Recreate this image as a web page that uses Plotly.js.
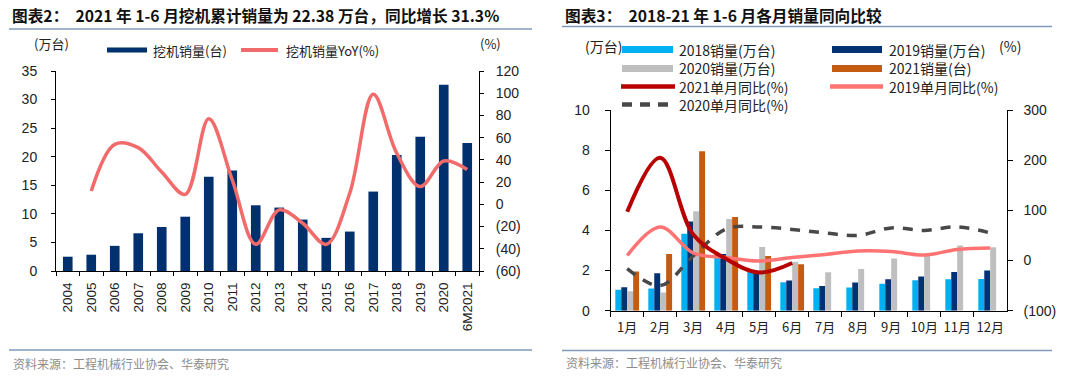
<!DOCTYPE html>
<html>
<head>
<meta charset="utf-8">
<script src="https://cdn.plot.ly/plotly-3.0.1.min.js"></script>
<style>html,body{margin:0;padding:0;background:#fff;}#chart{width:1080px;height:376px;}</style>
</head>
<body>
<div id="chart"></div>
<script>
// ---------- Data: chart 2 (annual) ----------
const years = ["2004","2005","2006","2007","2008","2009","2010","2011","2012","2013","2014","2015","2016","2017","2018","2019","2020","6M2021"];
const annualSales = [2.5, 2.85, 4.4, 6.6, 7.7, 9.5, 16.5, 17.6, 11.5, 11.1, 9.0, 5.8, 6.9, 13.9, 20.3, 23.5, 32.6, 22.38];
const annualYoY = [null, 12, 54, 51, 29, 9, 77, 22, -36, -5, -17, -36, 10, 99, 46, 16, 39, 31.3];
const leftYTicks = [0,5,10,15,20,25,30,35];
const yoyTickVals = [-60,-40,-20,0,20,40,60,80,100,120];
const yoyTickText = ["(60)","(40)","(20)","0","20","40","60","80","100","120"];
const annualNames = ["挖机销量(台)", "挖机销量YoY(%)"];

// ---------- Data: chart 3 (monthly) ----------
const months = ["1月","2月","3月","4月","5月","6月","7月","8月","9月","10月","11月","12月"];
const sales2018 = [1.05, 1.11, 3.83, 2.78, 1.93, 1.42, 1.12, 1.15, 1.34, 1.52, 1.57, 1.58];
const sales2019 = [1.17, 1.87, 4.45, 2.83, 1.87, 1.50, 1.23, 1.40, 1.57, 1.71, 1.93, 2.00];
const sales2020 = [0.97, 0.91, 4.95, 4.57, 3.17, 2.44, 1.92, 2.08, 2.60, 2.75, 3.25, 3.16];
const sales2021 = [1.95, 2.83, 7.95, 4.67, 2.73, 2.32, null, null, null, null, null, null];
const yoy2021 = [97, 205, 52, 3, -24, -5, null, null, null, null, null, null];
const yoy2019 = [10, 67, 15, 6, -1, 6, 12, 19, 18, 11, 22, 25];
const yoy2020 = [-16, -50, 9, 63, 67, 62, 55, 50, 65, 60, 67, 55];
const monthLeftTicks = [0,2,4,6,8,10];
const monthRightVals = [-100,0,100,200,300];
const monthRightText = ["(100)","0","100","200","300"];
const monthNames = ["2018销量(万台)","2019销量(万台)","2020销量(万台)","2021销量(台)","2021单月同比(%)","2019单月同比(%)","2020单月同比(%)"];

// ---------- Styling ----------
const W = 1080, H = 376;
const px = x => x / W;
const py = y => 1 - y / H;
const FONT = "Liberation Sans, Arial, Noto Sans CJK SC, sans-serif";
const CJK = "Noto Sans CJK SC, Liberation Sans, sans-serif";
const C = {
  navy: "#00306E", coral: "#F26B6B",
  c2018: "#00B0F0", c2019: "#003272", c2020: "#BFBFBF", c2021: "#C55A11",
  y2021: "#B80000", y2019: "#FF7373", y2020: "#484848",
  rule: "#7F9AB8", src: "#8C8C8C"
};

const traces = [
  {type:"bar", x: years, y: annualSales, name: annualNames[0], xaxis:"x", yaxis:"y",
   marker:{color:C.navy}, width:0.41, showlegend:false, hoverinfo:"skip"},
  {type:"scatter", mode:"lines", x: years, y: annualYoY, name: annualNames[1], xaxis:"x", yaxis:"y2",
   line:{color:C.coral, width:3.5, shape:"spline", smoothing:1}, connectgaps:false, showlegend:false, hoverinfo:"skip"},

  {type:"bar", x: months, y: sales2018, name: monthNames[0], xaxis:"x2", yaxis:"y3",
   marker:{color:C.c2018}, width:0.18, offset:-0.36, showlegend:false, hoverinfo:"skip"},
  {type:"bar", x: months, y: sales2019, name: monthNames[1], xaxis:"x2", yaxis:"y3",
   marker:{color:C.c2019}, width:0.18, offset:-0.18, showlegend:false, hoverinfo:"skip"},
  {type:"bar", x: months, y: sales2020, name: monthNames[2], xaxis:"x2", yaxis:"y3",
   marker:{color:C.c2020}, width:0.18, offset:0, showlegend:false, hoverinfo:"skip"},
  {type:"bar", x: months, y: sales2021, name: monthNames[3], xaxis:"x2", yaxis:"y3",
   marker:{color:C.c2021}, width:0.18, offset:0.18, showlegend:false, hoverinfo:"skip"},

  {type:"scatter", mode:"lines", x: months, y: yoy2020, name: monthNames[6], xaxis:"x2", yaxis:"y4",
   line:{color:C.y2020, width:3.5, shape:"spline", smoothing:1, dash:"10px,9px"}, showlegend:false, hoverinfo:"skip"},
  {type:"scatter", mode:"lines", x: months, y: yoy2019, name: monthNames[5], xaxis:"x2", yaxis:"y4",
   line:{color:C.y2019, width:3.5, shape:"spline", smoothing:1}, showlegend:false, hoverinfo:"skip"},
  {type:"scatter", mode:"lines", x: months, y: yoy2021, name: monthNames[4], xaxis:"x2", yaxis:"y4",
   line:{color:C.y2021, width:4, shape:"spline", smoothing:1}, showlegend:false, hoverinfo:"skip"}
];

const axisBase = {showgrid:false, zeroline:false, showline:true, linecolor:"#000", linewidth:1,
  ticks:"outside", tickcolor:"#000", tickwidth:1, fixedrange:true,
  tickfont:{family:FONT, size:14, color:"#222"}};

const layout = {
  width: W, height: H, margin:{l:0,r:0,t:0,b:0},
  paper_bgcolor:"#fff", plot_bgcolor:"rgba(0,0,0,0)", showlegend:false,
  barmode:"overlay",
  font:{family:FONT, color:"#222"},
  xaxis: Object.assign({}, axisBase, {domain:[px(56), px(479)], anchor:"y", type:"category",
    range:[-0.5, years.length-0.5], tickson:"boundaries", ticklen:4, tickangle:-90,
    ticklabelstandoff:5, tickfont:{family:FONT, size:13.5, color:"#222"}}),
  yaxis: Object.assign({}, axisBase, {domain:[py(271), py(71)], anchor:"x", range:[0,35],
    tickvals:leftYTicks, ticklen:4, ticklabelstandoff:11}),
  yaxis2: Object.assign({}, axisBase, {domain:[py(271), py(71)], anchor:"x", overlaying:"y", side:"right",
    range:[-60,120], tickvals:yoyTickVals, ticktext:yoyTickText, ticklen:4, ticklabelstandoff:9}),

  xaxis2: Object.assign({}, axisBase, {domain:[px(610.7), px(1006.7)], anchor:"y3", type:"category",
    range:[-0.5, months.length-0.5], tickson:"boundaries", ticklen:5, tickangle:0,
    ticklabelstandoff:5, tickfont:{family:CJK, size:13, color:"#222"}}),
  yaxis3: Object.assign({}, axisBase, {domain:[py(310.7), py(110)], anchor:"x2", range:[0,10],
    tickvals:monthLeftTicks, ticklen:5, ticklabelstandoff:12}),
  yaxis4: Object.assign({}, axisBase, {domain:[py(310.7), py(110)], anchor:"x2", overlaying:"y3", side:"right",
    range:[-100,300], tickvals:monthRightVals, ticktext:monthRightText, ticklen:5, ticklabelstandoff:8}),
  shapes: [], annotations: []
};

function txt(x, y, text, opts) {
  layout.annotations.push(Object.assign({xref:"paper", yref:"paper", x:px(x), y:py(y), text:text,
    showarrow:false, xanchor:"left", yanchor:"middle", borderpad:0,
    font:{family:CJK, size:13, color:"#222"}}, opts||{}));
}
function rect(x0,x1,y0,y1,color){
  layout.shapes.push({type:"rect", xref:"paper", yref:"paper", x0:px(x0), x1:px(x1), y0:py(y1), y1:py(y0),
    fillcolor:color, line:{width:0}, layer:"above"});
}
function hline(x0,x1,y,color,width,dash){
  layout.shapes.push({type:"line", xref:"paper", yref:"paper", x0:px(x0), x1:px(x1), y0:py(y), y1:py(y),
    line:{color:color, width:width, dash:dash||"solid"}, layer:"above"});
}

// titles & rules
txt(11, 16, "<b>图表2：  2021 年 1-6 月挖机累计销量为 22.38 万台，同比增长 31.3%</b>", {font:{family:CJK, size:15.7, color:"#111"}});
txt(564, 16, "<b>图表3：  2018-21 年 1-6 月各月销量同向比较</b>", {font:{family:CJK, size:15.7, color:"#111"}});
hline(9, 532, 29, C.rule, 1.5);
hline(562, 1052, 26.5, C.rule, 1.5);
hline(9, 532, 350, C.rule, 1.5);
hline(562, 1052, 350.5, C.rule, 1.5);
txt(12, 363, "资料来源：工程机械行业协会、华泰研究", {font:{family:CJK, size:12, color:C.src}});
txt(565, 362, "资料来源：工程机械行业协会、华泰研究", {font:{family:CJK, size:12, color:C.src}});

// chart 2 legend
txt(51, 43, "(万台)", {xanchor:"center"});
txt(490, 43, "(%)", {xanchor:"center"});
rect(107, 147, 47.5, 52.5, C.navy);
txt(152, 50, annualNames[0]);
hline(241, 278, 50, C.coral, 4);
txt(285, 50, annualNames[1]);

// chart 3 legend
txt(603, 46, "(万台)", {xanchor:"center", font:{family:CJK, size:14, color:"#222"}});
txt(1010, 46, "(%)", {xanchor:"center", font:{family:CJK, size:14, color:"#222"}});
const lf = {font:{family:CJK, size:14, color:"#222"}};
rect(622, 673, 46, 53, C.c2018); txt(678, 49.5, monthNames[0], lf);
rect(832, 882, 46, 53, C.c2019); txt(888, 49.5, monthNames[1], lf);
rect(622, 673, 65, 72, C.c2020); txt(678, 68.5, monthNames[2], lf);
rect(832, 882, 65, 72, C.c2021); txt(888, 68.5, monthNames[3], lf);
hline(621, 675, 86.5, C.y2021, 4.5); txt(678, 86.5, monthNames[4], lf);
hline(830, 883, 86.5, C.y2019, 4.5); txt(888, 86.5, monthNames[5], lf);
hline(622, 675, 104.5, C.y2020, 4.5, "10px,8px"); txt(678, 104.5, monthNames[6], lf);

Plotly.newPlot("chart", traces, layout, {staticPlot:true, displayModeBar:false});
</script>
</body>
</html>
